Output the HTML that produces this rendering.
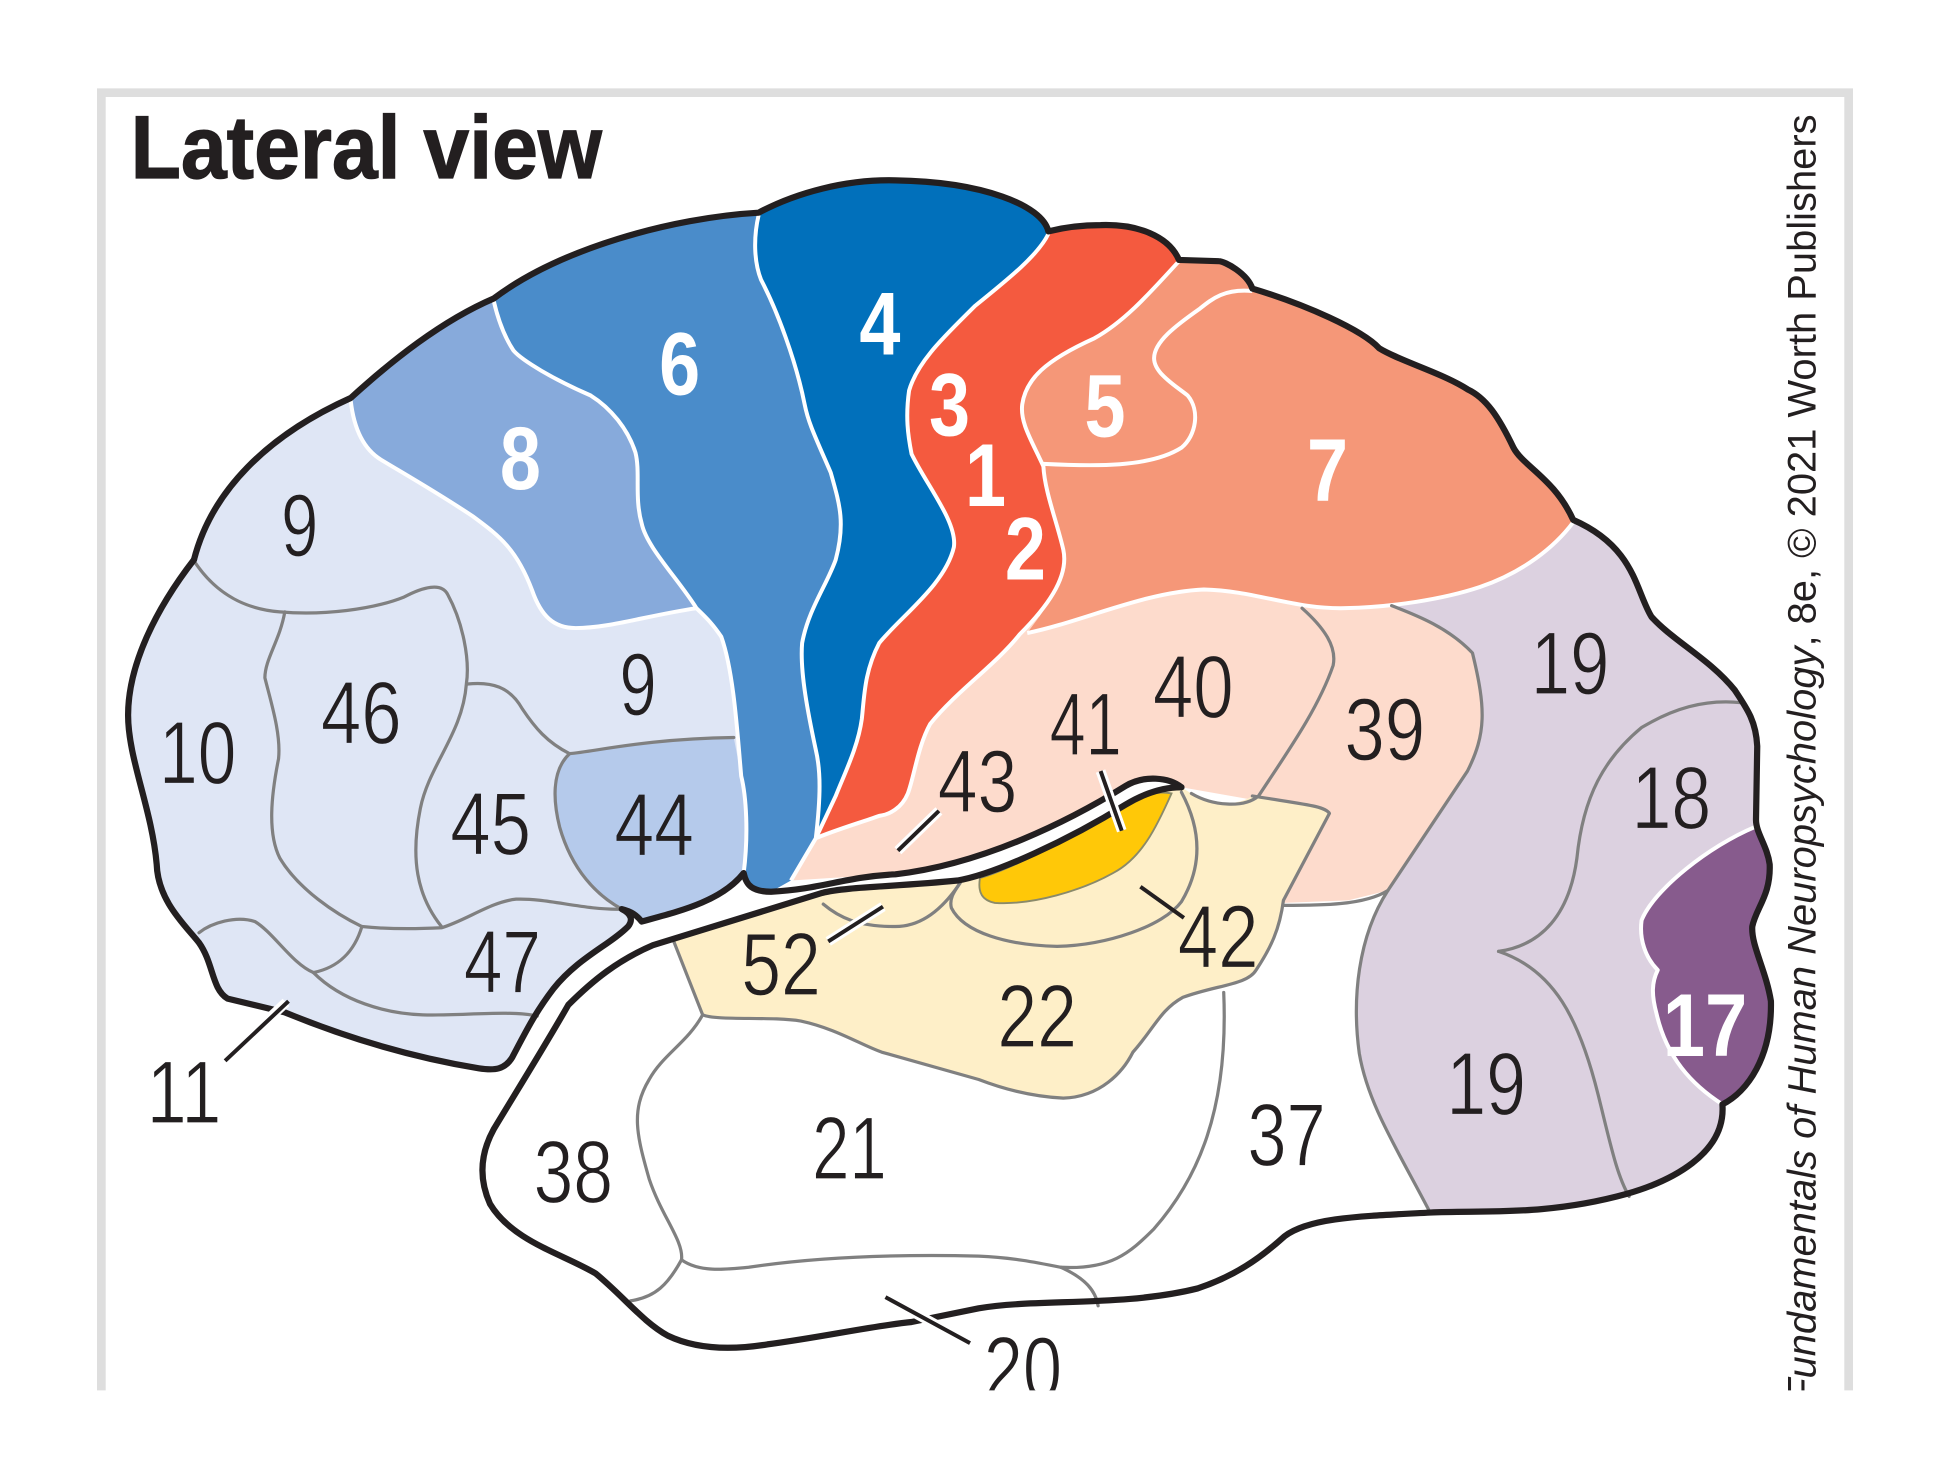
<!DOCTYPE html>
<html><head><meta charset="utf-8"><style>
html,body{margin:0;padding:0;background:#fff}
svg{display:block}
text{font-family:"Liberation Sans Narrow","Liberation Sans",sans-serif}
.n{font-size:72px;fill:#231f20;text-anchor:start;stroke-width:1}
.b{font-size:72px;fill:#fff;font-weight:bold}
.g{fill:none;stroke:#808080;stroke-width:2.6;stroke-linecap:round;stroke-linejoin:round}
.w{fill:none;stroke:#fff;stroke-width:3.2;stroke-linejoin:round}
.k{fill:none;stroke:#231f20;stroke-width:5;stroke-linejoin:round;stroke-linecap:round}
.h{stroke:#fff;stroke-width:8;fill:none}
.l{stroke:#231f20;stroke-width:3.2;fill:none}
</style></head><body>
<svg xmlns="http://www.w3.org/2000/svg" width="1950" height="1475" viewBox="0 0 1568 1186">
<defs><clipPath id="c"><rect x="0" y="0" width="1568" height="1118"/></clipPath></defs>
<rect width="1568" height="1186" fill="#fff"/>
<g clip-path="url(#c)">
<path d="M81.500 1130V74.500H1486.500V1130" fill="none" stroke="#dedede" stroke-width="7"/>

<!-- frontal base -->
<path fill="#dfe6f5" d="M156 450C170 395 215 350 282 320C315 290 355 258 397 240L660 400L598 702C580 725 545 733 516 741L500 731C508 735 509 740 505 745C490 760 465 770 445 795C432 812 425 825 412 850C406 860 398 861 385 859C330 850 280 835 229 814L183 803C170 795 172 775 160 758C150 745 127 725 126 695C122 650 103 610 103 575C103 535 125 490 156 450Z"/>
<!-- peach -->
<path fill="#fddbcc" d="M820 510C800 535 770 555 748 582C738 600 735 625 730 638C725 650 715 655 707 656C690 662 670 668 656 674L636 708C680 705 720 703 720 703C790 695 860 660 905 632C920 623 940 625 950 633L1069 654L1032 726L1084 724L1116 716L1180 620C1195 590 1195 570 1184 525L1119 470L1000 450L820 500Z"/>
<!-- beige 22 -->
<path fill="#feefc8" d="M541 755L565 816C576 821 620 817 644 821C672 827 692 840 709 846L787 868C813 878 835 882 855 883C885 882 903 862 911 846C928 827 933 812 951 802C978 792 1003 792 1010 780C1022 762 1029 747 1032 724L1069 654C1065 648 1050 647 1007 640C995 648 975 648 958 638L950 633C935 633 920 638 905 647C860 675 800 703 770 707C720 712 680 712 661 717Z"/>
<!-- yellow -->
<path fill="#ffc808" stroke="#8a8a6a" stroke-width="1.5" d="M942 638C930 665 918 690 895 702C870 716 830 728 800 726C790 724 786 718 788 706C810 700 860 675 905 647C920 638 932 636 942 638Z"/>
<!-- purple 19 -->
<path fill="#dcd1e0" d="M1119 487C1160 482 1190 472 1225 457C1245 445 1255 430 1265 418C1315 440 1315 475 1328 496C1345 515 1375 530 1395 555C1405 570 1412 580 1413 600L1412 659C1412 670 1421 680 1423 695C1424 720 1412 730 1409 745C1408 760 1420 780 1424 805C1425 850 1405 878 1385 888C1388 928 1343 950 1308 960C1243 978 1193 973 1150 975C1123 923 1100 888 1093 847C1087 803 1092 753 1116 716L1180 620C1195 590 1195 570 1184 525C1165 505 1140 495 1119 487Z"/>
<!-- 17 -->
<path fill="#875b8d" d="M1411 665C1412 670 1421 680 1423 695C1424 720 1412 730 1409 745C1408 760 1420 780 1424 805C1425 850 1405 878 1385 888C1360 872 1340 850 1332 815C1328 800 1328 790 1333 780C1323 770 1318 755 1320 740C1330 715 1375 680 1411 665Z"/>
<!-- 7 -->
<path fill="#f59778" d="M948 210L980 210C985 210 1003 220 1007 232C1050 245 1095 265 1109 280C1125 290 1160 300 1180 313C1195 320 1205 335 1217 360C1225 375 1250 385 1265 418C1250 440 1225 460 1190 472C1160 482 1120 488 1082 489C1040 490 1010 475 968 474C920 476 870 500 826 509C840 490 860 465 855 442C850 420 840 395 839 375C830 355 820 340 822 325C825 305 840 290 880 272C905 258 925 235 948 210Z"/>
<!-- 3 1 2 -->
<path fill="#f45a3f" d="M843 186C855 183 870 181 885 181C915 180 940 190 948 210C925 235 905 258 880 272C840 290 825 305 822 325C820 340 830 355 839 375C840 395 850 420 855 442C860 465 840 490 820 510C800 535 770 555 748 582C738 600 735 625 730 638C725 650 715 655 707 656C690 662 670 668 656 674L672 640C680 620 690 600 693 578C695 560 695 540 707 517C725 495 760 470 767 440C770 420 745 390 733 365C730 350 728 335 731 314C738 290 760 270 784 246C810 225 835 205 843 186Z"/>
<!-- 4 -->
<path fill="#0170bb" d="M610 171C640 155 680 144 720 145C790 146 838 165 843 186C835 205 810 225 784 246C760 270 738 290 731 314C728 335 730 350 733 365C745 390 770 420 767 440C760 470 725 495 707 517C695 540 695 560 693 578C690 600 680 620 672 640L656 674C660 640 660 620 656 603C650 575 643 540 645 517C650 490 665 470 672 450C680 420 675 405 668 380C655 350 650 340 647 325C640 290 625 250 612 225C606 210 606 190 610 171Z"/>
<!-- 6 -->
<path fill="#4a8cca" d="M397 240C450 200 540 175 610 171C606 190 606 210 612 225C625 250 640 290 647 325C650 340 655 350 668 380C675 405 680 420 672 450C665 470 650 490 645 517C643 540 650 575 656 603C660 620 660 640 656 674L636 708L620 717C605 717 600 712 598 702C602 670 600 640 596 624C593 590 590 540 580 512C572 500 566 495 560 487C545 465 520 440 516 421C510 400 515 380 511 364C505 345 491 328 475 318C445 305 420 290 413 282C405 270 400 255 397 240Z"/>
<!-- 8 -->
<path fill="#87aadb" d="M282 320C315 290 355 258 397 240C400 255 405 270 413 282C420 290 445 305 475 318C491 328 505 345 511 364C515 380 510 400 516 421C520 440 545 465 560 489C520 495 490 505 463 505C445 505 435 495 428 475C415 440 400 430 380 415C350 395 320 378 307 370C290 360 284 340 282 320Z"/>
<!-- 44 -->
<path fill="#b5caeb" d="M458 606C480 604 520 594 590 593L596 624C600 640 602 670 598 702C580 725 545 733 516 741L500 731C480 720 460 700 450 665C445 645 443 620 458 606Z"/>

<!-- white dividers -->
<path class="w" d="M282 322C284 340 290 360 307 370C320 378 350 395 380 415C400 430 415 440 428 475C435 495 445 505 463 505C490 505 520 495 560 489"/>
<path class="w" d="M397 242C400 255 405 270 413 282C420 290 445 305 475 318C491 328 505 345 511 364C515 380 510 400 516 421C520 440 545 465 560 489C566 495 572 500 580 512C590 540 593 590 596 624C600 640 602 670 598 702"/>
<path class="w" d="M610 173C606 190 606 210 612 225C625 250 640 290 647 325C650 340 655 350 668 380C675 405 680 420 672 450C665 470 650 490 645 517C643 540 650 575 656 603C660 620 660 640 656 674L636 708"/>
<path class="w" d="M843 188C835 205 810 225 784 246C760 270 738 290 731 314C728 335 730 350 733 365C745 390 770 420 767 440C760 470 725 495 707 517C695 540 695 560 693 578C690 600 680 620 672 640L656 674"/>
<path class="w" d="M948 210C925 235 905 258 880 272C840 290 825 305 822 325C820 340 830 355 839 375C840 395 850 420 855 442C860 465 840 490 820 510C800 535 770 555 748 582C738 600 735 625 730 638C725 650 715 655 707 656C690 662 670 668 656 674"/>
<path class="w" d="M1265 420C1250 440 1225 460 1190 472C1160 482 1120 488 1082 489C1040 490 1010 475 968 474C920 476 870 500 826 509"/>
<path class="w" d="M1007 234C985 232 975 240 965 248C945 262 928 275 928 288C928 300 945 310 955 318C965 330 962 350 950 360C925 376 880 375 839 373"/>
<path class="w" d="M1411 665C1375 680 1330 715 1320 740C1318 755 1323 770 1333 780C1328 790 1328 800 1332 815C1340 850 1360 872 1385 888"/>

<!-- gray lines -->
<path class="g" d="M156 451C175 480 200 490 225 492C260 495 300 490 325 480C340 472 355 468 360 478C372 500 378 530 375 550C372 590 345 615 338 650C330 690 335 720 355 745"/>
<path class="g" d="M229 492C225 515 213 530 213 545C218 565 226 590 224 610C218 640 215 670 225 690C240 715 270 735 291 745"/>
<path class="g" d="M291 745C310 747 335 747 355 746C375 740 395 725 415 723C440 722 470 732 500 731"/>
<path class="g" d="M291 745C285 765 272 778 252 782"/>
<path class="g" d="M160 750C170 742 190 736 205 741C220 750 235 775 252 782C275 805 310 815 340 816C370 817 410 812 432 817"/>
<path class="g" d="M376 550C395 548 410 552 420 570C430 585 440 597 458 606C480 604 520 594 590 593"/>
<path class="g" d="M458 606C443 620 445 645 450 665C460 700 480 720 500 731"/>
<path class="g" d="M541 755L565 816C576 821 620 817 644 821C672 827 692 840 709 846L787 868C813 878 835 882 855 883C885 882 903 862 911 846C928 827 933 812 951 802C978 792 1003 792 1010 780C1022 762 1029 747 1032 724L1069 654C1065 648 1050 647 1007 640"/>
<path class="g" d="M565 816C553 838 533 848 522 868C507 893 512 913 522 948C532 978 550 998 548 1013C537 1033 527 1043 507 1046"/>
<path class="g" d="M548 1013C562 1023 582 1021 602 1019C642 1013 702 1008 787 1010C813 1011 833 1015 853 1019C893 1021 908 1008 928 988C963 948 988 893 984 798"/>
<path class="g" d="M853 1019C873 1028 881 1038 883 1050"/>
<path class="g" d="M950 637C965 665 968 695 950 725C935 745 890 760 850 761C810 760 775 750 765 730C763 722 768 716 772 710"/>
<path class="g" d="M662 727C675 738 690 745 720 745C745 745 762 725 772 710"/>
<path class="g" d="M1047 489C1065 505 1075 520 1072 535C1060 570 1035 605 1012 640C1000 650 975 648 958 638"/>
<path class="g" d="M1119 487C1140 495 1165 505 1184 525C1195 570 1195 590 1180 620L1116 716C1092 753 1087 803 1093 847C1100 888 1123 923 1150 975"/>
<path class="g" d="M1032 728C1062 728 1097 728 1116 716"/>
<path class="g" d="M1205 765C1240 760 1262 735 1268 690C1273 640 1290 610 1320 585C1345 570 1370 562 1400 565"/>
<path class="g" d="M1205 765C1250 780 1270 820 1285 880C1295 920 1300 945 1310 962"/>

<!-- black outline -->
<path class="k" d="M156 450C125 490 103 535 103 575C103 610 122 650 126 695C127 725 150 745 160 758C172 775 170 795 183 803L229 814C280 835 330 850 385 859C398 861 406 860 412 850C425 825 432 812 445 795C465 770 490 760 505 745C509 740 508 735 500 731C508 733 512 736 516 741C545 733 580 725 598 702C600 712 605 717 620 717C660 715 680 705 720 703C790 695 860 660 905 632C920 623 940 625 950 633"/>
<path class="k" d="M950 633C935 633 920 638 905 647C860 675 800 703 770 708C720 713 680 713 661 718L525 760C497 772 477 788 457 808C437 843 412 883 397 908C386 928 385 948 394 968C412 998 452 1008 479 1024C502 1043 517 1063 537 1074C562 1086 592 1085 617 1081C662 1075 702 1066 733 1063L787 1052C833 1044 903 1051 963 1036C993 1026 1013 1012 1033 994C1053 979 1093 978 1150 975C1193 973 1243 978 1308 960C1343 950 1388 928 1385 888C1405 878 1425 850 1424 805C1420 780 1408 760 1409 745C1412 730 1424 720 1423 695C1421 680 1412 670 1412 659L1413 600C1412 580 1405 570 1395 555C1375 530 1345 515 1328 496C1315 475 1315 440 1265 418C1250 385 1225 375 1217 360C1205 335 1195 320 1180 313C1160 300 1125 290 1109 280C1095 265 1050 245 1007 232C1003 220 985 210 980 210L948 209C940 190 915 180 885 181C870 181 855 183 843 186C838 165 790 146 720 145C680 144 640 155 610 171C540 175 450 200 397 240C355 258 315 290 282 320C215 350 170 395 156 450"/>

<!-- leaders -->
<path class="h" d="M230 806L181 852"/><path class="l" d="M232 805L181 853"/>
<path class="h" d="M712 1043L780 1080"/><path class="l" d="M712 1043L780 1080"/>
<path class="h" d="M885 620L902 668"/><path class="l" d="M885 620L902 668"/>
<path class="l" d="M917 713L952 738"/>
<path class="h" d="M755 652L722 684"/><path class="l" d="M755 652L722 684"/>
<path class="h" d="M710 729L666 757"/><path class="l" d="M710 729L666 757"/>

<!-- title -->
<text x="105" y="143" font-size="72" font-weight="bold" fill="#231f20" stroke="#231f20" stroke-width="1" textLength="379" lengthAdjust="spacingAndGlyphs">Lateral view</text>
<text transform="translate(1460 92) rotate(-90)" font-size="32" fill="#231f20" text-anchor="end" textLength="1036" lengthAdjust="spacingAndGlyphs" style="font-family:'Liberation Sans',sans-serif"><tspan font-style="italic">Fundamentals of Human Neuropsychology</tspan>, 8e, © 2021 Worth Publishers</text>

<!-- labels -->
<g stroke="#dfe6f5">
<text class="n" x="226" y="447" textLength="30" lengthAdjust="spacingAndGlyphs">9</text>
<text class="n" x="498" y="575" textLength="30" lengthAdjust="spacingAndGlyphs">9</text>
<text class="n" x="128" y="630" textLength="62" lengthAdjust="spacingAndGlyphs">10</text>
<text class="n" x="258" y="598" textLength="65" lengthAdjust="spacingAndGlyphs">46</text>
<text class="n" x="362" y="687" textLength="65" lengthAdjust="spacingAndGlyphs">45</text>
<text class="n" x="373" y="798" textLength="62" lengthAdjust="spacingAndGlyphs">47</text>
</g>
<text class="n" stroke="#b5caeb" x="494" y="688" textLength="64" lengthAdjust="spacingAndGlyphs">44</text>
<g stroke="#fff">
<text class="n" x="118" y="903" textLength="60" lengthAdjust="spacingAndGlyphs">11</text>
<text class="n" x="653" y="948" textLength="60" lengthAdjust="spacingAndGlyphs">21</text>
<text class="n" x="429" y="967" textLength="64" lengthAdjust="spacingAndGlyphs">38</text>
<text class="n" x="1003" y="937" textLength="63" lengthAdjust="spacingAndGlyphs">37</text>
<text class="n" x="791" y="1125" textLength="63" lengthAdjust="spacingAndGlyphs">20</text>
</g>
<g stroke="#feefc8">
<text class="n" x="596" y="800" textLength="64" lengthAdjust="spacingAndGlyphs">52</text>
<text class="n" x="802" y="842" textLength="64" lengthAdjust="spacingAndGlyphs">22</text>
<text class="n" x="947" y="778" textLength="65" lengthAdjust="spacingAndGlyphs">42</text>
</g>
<g stroke="#fddbcc">
<text class="n" x="754" y="653" textLength="64" lengthAdjust="spacingAndGlyphs">43</text>
<text class="n" x="844" y="607" textLength="58" lengthAdjust="spacingAndGlyphs">41</text>
<text class="n" x="927" y="577" textLength="65" lengthAdjust="spacingAndGlyphs">40</text>
<text class="n" x="1081" y="611" textLength="65" lengthAdjust="spacingAndGlyphs">39</text>
</g>
<g stroke="#dcd1e0">
<text class="n" x="1231" y="558" textLength="63" lengthAdjust="spacingAndGlyphs">19</text>
<text class="n" x="1312" y="666" textLength="64" lengthAdjust="spacingAndGlyphs">18</text>
<text class="n" x="1163" y="896" textLength="64" lengthAdjust="spacingAndGlyphs">19</text>
</g>

<text class="b" x="402" y="393" textLength="33" lengthAdjust="spacingAndGlyphs">8</text>
<text class="b" x="530" y="317" textLength="33" lengthAdjust="spacingAndGlyphs">6</text>
<text class="b" x="691" y="285" textLength="33" lengthAdjust="spacingAndGlyphs">4</text>
<text class="b" x="747" y="350" textLength="33" lengthAdjust="spacingAndGlyphs">3</text>
<text class="b" x="776" y="407" textLength="33" lengthAdjust="spacingAndGlyphs">1</text>
<text class="b" x="808" y="466" textLength="33" lengthAdjust="spacingAndGlyphs">2</text>
<text class="b" x="872" y="351" textLength="33" lengthAdjust="spacingAndGlyphs">5</text>
<text class="b" x="1051" y="403" textLength="33" lengthAdjust="spacingAndGlyphs">7</text>
<text class="b" x="1337" y="849" textLength="68" lengthAdjust="spacingAndGlyphs">17</text>
</g>
</svg>
</body></html>
